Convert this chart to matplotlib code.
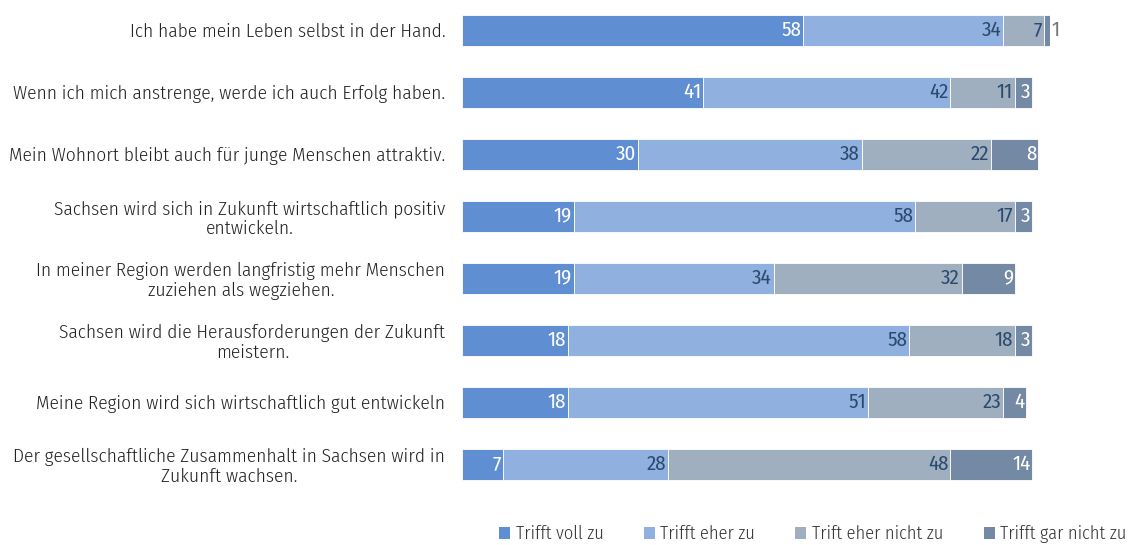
import matplotlib
matplotlib.use("Agg")
import matplotlib.pyplot as plt
from matplotlib.patches import Patch

statements = [
    "Ich habe mein Leben selbst in der Hand.",
    "Wenn ich mich anstrenge, werde ich auch Erfolg haben.",
    "Mein Wohnort bleibt auch für junge Menschen attraktiv.",
    "Sachsen wird sich in Zukunft wirtschaftlich positiv\nentwickeln.",
    "In meiner Region werden langfristig mehr Menschen\nzuziehen als wegziehen.",
    "Sachsen wird die Herausforderungen der Zukunft\nmeistern.",
    "Meine Region wird sich wirtschaftlich gut entwickeln",
    "Der gesellschaftliche Zusammenhalt in Sachsen wird in\nZukunft wachsen.",
]
categories = ["Trifft voll zu", "Trifft eher zu", "Trift eher nicht zu", "Trifft gar nicht zu"]
voll = [58, 41, 30, 19, 19, 18, 18, 7]
eher = [34, 42, 38, 58, 34, 58, 51, 28]
eher_nicht = [7, 11, 22, 17, 32, 18, 23, 48]
gar_nicht = [1, 3, 8, 3, 9, 3, 4, 14]

colors = ["#608ED2", "#90B0E0", "#9FAFC0", "#7489A3"]
text_colors = ["white", "#2B4A6E", "#2B4A6E", "white"]

plt.rcParams["font.family"] = ["Fira Sans Condensed", "DejaVu Sans"]
plt.rcParams["font.weight"] = 300

fig = plt.figure(figsize=(11.34, 5.45), dpi=100)
ax = fig.add_axes([462 / 1134, 1 - 495 / 545, 588 / 1134, 496 / 545])

series = [voll, eher, eher_nicht, gar_nicht]
y = list(range(len(statements)))
left = [0] * len(statements)
for vals, col, tcol in zip(series, colors, text_colors):
    ax.barh(y, vals, left=left, height=0.5, color=col, edgecolor="white", linewidth=0.6)
    for i, v in enumerate(vals):
        end = left[i] + v
        if v >= 2:
            ax.text(end - 0.3, i, str(v), ha="right", va="center",
                    color=tcol, fontsize=15, weight=400)
        else:
            ax.text(end + 0.2, i, str(v), ha="left", va="center",
                    color="#777777", fontsize=15, weight=400)
    left = [l + v for l, v in zip(left, vals)]

ax.set_xlim(0, 100)
ax.set_ylim(len(statements) - 0.5, -0.5)
ax.set_yticks(y)
ax.set_yticklabels(statements, fontsize=13.9, multialignment="center", color="#222222",
                   linespacing=1.15)
ax.tick_params(axis="y", length=0, pad=12)
ax.set_xticks([])
for s in ax.spines.values():
    s.set_visible(False)

handles = [Patch(facecolor=c, edgecolor="none") for c in colors]
fig.legend(handles, categories, loc="lower right", bbox_to_anchor=(1.008, -0.027),
           ncol=4, frameon=False, fontsize=13.2, handlelength=0.6, handleheight=0.6,
           handletextpad=0.3, columnspacing=2.2, labelcolor="#333333")

fig.savefig("out.png", dpi=100)
